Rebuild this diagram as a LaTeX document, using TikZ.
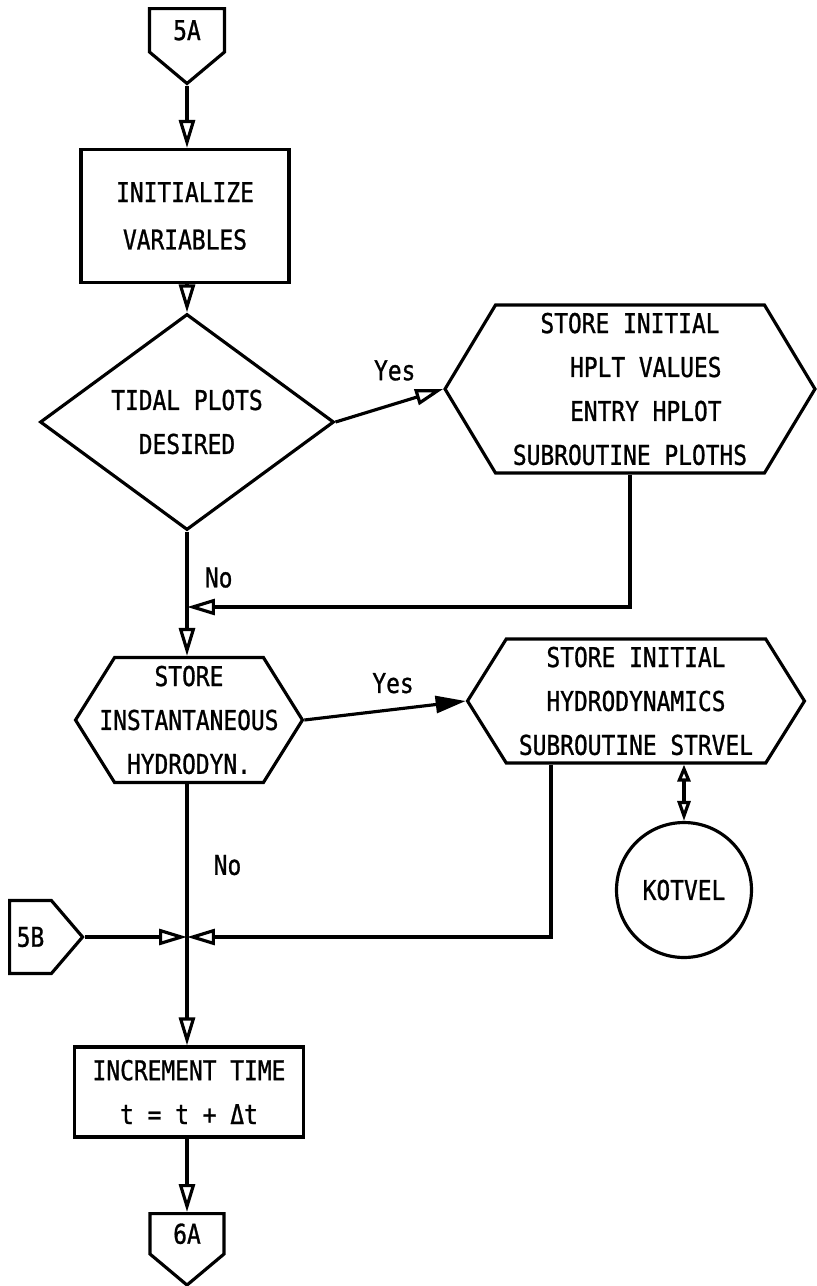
\documentclass[tikz,border=0pt]{standalone}
\usepackage{fontspec}
\setmainfont{DejaVu Sans Mono}[FakeStretch=0.84, FakeBold=1]
\usetikzlibrary{arrows.meta,shapes.geometric,shapes.symbols}

\begin{document}
\begin{tikzpicture}[
    x=0.02cm, y=-0.02cm,
    line width=1.8pt,
    every node/.style={font=\fontsize{15.5}{25}\selectfont},
    box/.style={rectangle, draw, align=center, inner sep=0pt},
    decide/.style={diamond, draw, align=center, inner sep=0pt},
    store/.style={signal, signal to=east and west, draw, align=center, inner sep=0pt},
    offpage/.style={signal, draw, inner sep=0pt},
    sub/.style={circle, draw, inner sep=0pt},
    flow/.style={-{Triangle[open, length=0.56cm, width=0.32cm]}},
    yes/.style={-{Triangle[length=0.6cm, width=0.34cm]}},
    link/.style={{Triangle[open, length=0.34cm, width=0.26cm]}-{Triangle[open, length=0.4cm, width=0.26cm]}}
]
\useasboundingbox (0,0) rectangle (816,1286);

%% Main column
\node[offpage, signal to=south, signal pointer angle=100,
      minimum width=1.5cm, minimum height=1.1cm, anchor=north] (c5A) at (187,7) {5A};
\node[box, minimum width=4.16cm, minimum height=2.66cm,
      font=\fontsize{15.5}{27}\selectfont] (init) at (185,216) {INITIALIZE\\VARIABLES};
\node[decide, minimum width=5.88cm, minimum height=3.34cm] (tidal) at (187,422)
      {TIDAL PLOTS\\DESIRED};
\node[store, signal pointer angle=116, inner xsep=-0.32cm,
      minimum width=4.54cm, minimum height=2.5cm]
      (hyd) at (189,720) {STORE\\INSTANTANEOUS\\HYDRODYN.};
\coordinate (jn) at (187,937);
\node[box, minimum width=4.58cm, minimum height=1.8cm] (inc) at (189,1092)
      {INCREMENT TIME\\t = t + Δt};
\node[offpage, signal to=south, signal pointer angle=100,
      minimum width=1.48cm, minimum height=1.04cm, anchor=north] (c6A) at (187,1212) {6A};

%% Right column
\node[store, signal pointer angle=118, minimum width=7.4cm, minimum height=3.36cm]
      (plt) at (630,389)
      {STORE INITIAL\\\hspace*{18pt}HPLT VALUES\\\hspace*{18pt}ENTRY HPLOT\\SUBROUTINE PLOTHS};
\node[store, signal pointer angle=116, minimum width=6.74cm, minimum height=2.48cm]
      (vel) at (636,701) {STORE INITIAL\\HYDRODYNAMICS\\SUBROUTINE STRVEL};
\node[sub, minimum size=2.7cm] (kot) at (684,890) {KOTVEL};
\node[offpage, signal to=east, signal pointer angle=99,
      minimum width=1.46cm, minimum height=1.46cm, anchor=west] (c5B) at (8,937) {5B};

%% Connectors
\draw[flow] (c5A.south) -- (init.north -| c5A.south);
\draw[flow] (init.south -| tidal.north) -- (tidal.north);
\draw[flow] (tidal.east) -- node[above, pos=0.55, yshift=9pt]{Yes} (plt.west);
\coordinate (mrg) at (tidal.south |- 0,607);
\draw[flow] (tidal.south) -- node[right, pos=0.37, xshift=6pt]{No} (hyd.north -| tidal.south);
\draw[flow] (plt.south) |- (mrg);
\draw[yes] (hyd.east) -- node[above, pos=0.55, yshift=5pt]{Yes} (vel.west);
\draw[link] (vel.south -| kot.north) -- (kot.north);
\draw[flow] (hyd.south -| jn) -- node[right, pos=0.31, xshift=11pt]{No} (inc.north -| jn);
\draw[flow] ([xshift=-1.7cm]vel.south) |- (jn);
\draw[flow] (c5B.east) -- (jn);
\draw[flow] (inc.south -| c6A.north) -- (c6A.north);

\end{tikzpicture}
\end{document}
